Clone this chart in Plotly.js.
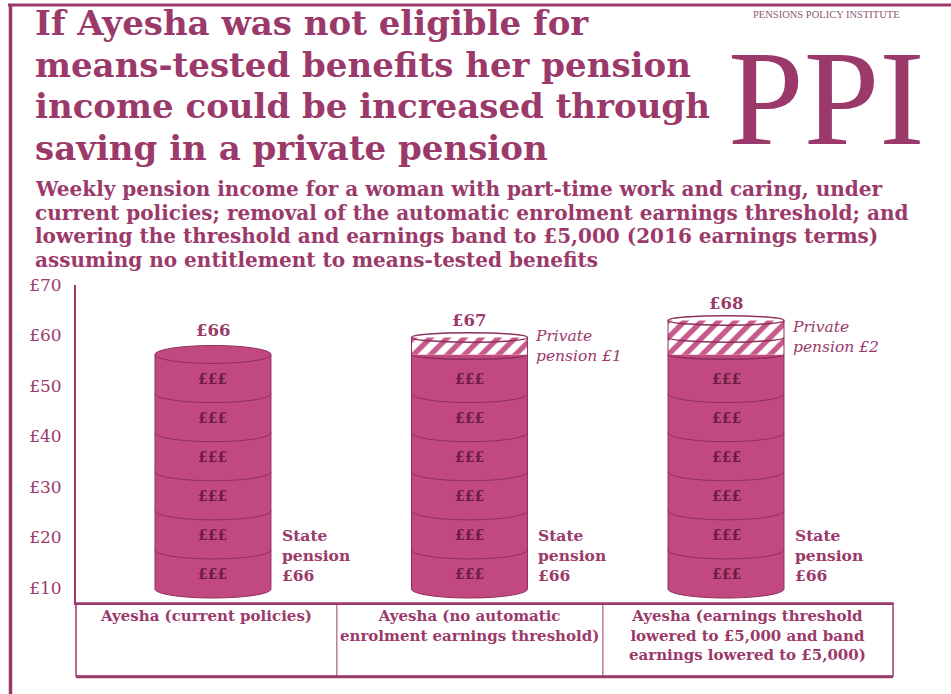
<!DOCTYPE html>
<html><head><meta charset="utf-8">
<script src="https://cdn.plot.ly/plotly-3.0.1.min.js"></script>
<style>html,body{margin:0;padding:0;background:#fff}#chart{width:951px;height:694px}</style>
</head><body><div id="chart"></div>
<script>
// ---------------- data ----------------
const categories = [
  "Ayesha (current policies)",
  "Ayesha (no automatic<br>enrolment earnings threshold)",
  "Ayesha (earnings threshold<br>lowered to £5,000 and band<br>earnings lowered to £5,000)"
];
const totalIncome = [66, 67, 68];
const statePension = [66, 66, 66];
const privatePension = [0, 1, 2];
const stateCoins = [6, 6, 6];
const privateCoins = [0, 1, 2];
const yTickValues = [10, 20, 30, 40, 50, 60, 70];
const yTickLabels = ["£10", "£20", "£30", "£40", "£50", "£60", "£70"];
const titleLines = [
  "If Ayesha was not eligible for",
  "means-tested benefits her pension",
  "income could be increased through",
  "saving in a private pension"
];
const subtitleLines = [
  "Weekly pension income for a woman with part-time work and caring, under",
  "current policies; removal of the automatic enrolment earnings threshold; and",
  "lowering the threshold and earnings band to £5,000 (2016 earnings terms)",
  "assuming no entitlement to means-tested benefits"
];
const logoSmall = "PENSIONS POLICY INSTITUTE";
const logoBig = "PPI";

// ---------------- style / geometry ----------------
const W = 951, H = 694;
const M = {l: 76, r: 58, t: 285, b: 91};
const PW = W - M.l - M.r, PH = H - M.t - M.b;
const XR = [-0.534, 2.651], YR = [7.03, 70];
const pxPerY = PH / (YR[1] - YR[0]);
const px2x = px => (px - M.l) / PW;
const py2y = py => (H - M.b - py) / PH;
const d2px = x => (x - XR[0]) / (XR[1] - XR[0]);
const colEdges = [-0.534, 0.483, 1.52, 2.651];

const MAROON = '#9b3a6a', COIN = '#c2497f', COINLINE = '#8f2e5c', COINTEXT = '#6d1d45';
const SERIF = 'DejaVu Serif, serif';

const stackBase = 9.8, coinH = 7.74, privH = 3.37, halfW = 0.226;
const ryS = 1.78, ryP = 0.95, K = 0.5523;

const xs = categories.map((_, i) => i);
const stateTop = stateCoins.map(n => stackBase + n * coinH);
const overallTop = stateTop.map((t, i) => t + privateCoins[i] * privH);

// ---------------- traces ----------------
const traces = [
  {
    type: 'bar', x: xs, y: stateCoins.map(n => n * coinH), base: stackBase,
    width: 2 * halfW, marker: {color: COIN, line: {width: 0}},
    hoverinfo: 'skip', showlegend: false, name: 'State pension'
  },
  {
    type: 'bar', x: xs, y: privateCoins.map(n => n * privH), base: stateTop,
    width: 2 * halfW,
    marker: {color: 'white', line: {width: 0},
      pattern: {shape: '/', fgcolor: '#c65a8c', bgcolor: 'white', size: 12, solidity: 0.45}},
    hoverinfo: 'skip', showlegend: false, name: 'Private pension'
  }
];

// ---------------- shapes ----------------
const shapes = [];
function lowerArc(cx, y, rx, ry) {
  return `M ${cx - rx},${y} C ${cx - rx},${y - K * ry} ${cx - K * rx},${y - ry} ${cx},${y - ry} ` +
         `C ${cx + K * rx},${y - ry} ${cx + rx},${y - K * ry} ${cx + rx},${y}`;
}
xs.forEach((cx, i) => {
  shapes.push({type: 'path', xref: 'x', yref: 'y', path: lowerArc(cx, stackBase, halfW, ryS) + ' Z',
    fillcolor: COIN, line: {width: 0}});
  shapes.push({type: 'path', xref: 'x', yref: 'y', path: lowerArc(cx, stackBase, halfW, ryS),
    fillcolor: 'rgba(0,0,0,0)', line: {color: COINLINE, width: 1}});
  [-1, 1].forEach(s => shapes.push({type: 'line', xref: 'x', yref: 'y',
    x0: cx + s * halfW, x1: cx + s * halfW, y0: stackBase, y1: overallTop[i],
    line: {color: COINLINE, width: 1}}));
  for (let k = 1; k < stateCoins[i]; k++) {
    shapes.push({type: 'path', xref: 'x', yref: 'y', path: lowerArc(cx, stackBase + k * coinH, halfW, ryS),
      fillcolor: 'rgba(0,0,0,0)', line: {color: COINLINE, width: 1}});
  }
  for (let j = 0; j < privateCoins[i]; j++) {
    shapes.push({type: 'path', xref: 'x', yref: 'y', path: lowerArc(cx, stateTop[i] + j * privH, halfW, ryP),
      fillcolor: 'rgba(0,0,0,0)', line: {color: COINLINE, width: 1.5}});
  }
  const ry = privateCoins[i] > 0 ? ryP : ryS;
  shapes.push({type: 'circle', xref: 'x', yref: 'y',
    x0: cx - halfW, x1: cx + halfW, y0: overallTop[i] - ry, y1: overallTop[i] + ry,
    fillcolor: privateCoins[i] > 0 ? 'rgba(0,0,0,0)' : COIN,
    line: {color: COINLINE, width: privateCoins[i] > 0 ? 1.5 : 1}});
});

// frame
shapes.push({type: 'line', xref: 'paper', yref: 'paper', x0: px2x(8), x1: px2x(951), y0: py2y(5), y1: py2y(5),
  line: {color: MAROON, width: 3}});
shapes.push({type: 'line', xref: 'paper', yref: 'paper', x0: px2x(10.5), x1: px2x(10.5), y0: py2y(4), y1: py2y(694),
  line: {color: MAROON, width: 3.5}});
// table
shapes.push({type: 'rect', xref: 'paper', yref: 'paper', x0: d2px(colEdges[0]), x1: d2px(colEdges[3]),
  y0: py2y(676), y1: py2y(603), line: {color: MAROON, width: 1.5}});
shapes.push({type: 'line', xref: 'paper', yref: 'paper', x0: d2px(colEdges[0]), x1: d2px(colEdges[3]),
  y0: py2y(677), y1: py2y(677), line: {color: MAROON, width: 2.5}});
[1, 2].forEach(c => shapes.push({type: 'line', xref: 'paper', yref: 'paper',
  x0: d2px(colEdges[c]), x1: d2px(colEdges[c]), y0: py2y(676), y1: py2y(603),
  line: {color: MAROON, width: 1}}));

// ---------------- annotations ----------------
const ann = [];
titleLines.forEach((t, k) => ann.push({xref: 'paper', yref: 'paper', x: px2x(33), y: py2y(23 + k * 41.5),
  xanchor: 'left', yanchor: 'middle', showarrow: false, text: t,
  font: {family: SERIF, size: 34, color: MAROON, weight: 'bold'}}));
subtitleLines.forEach((t, k) => ann.push({xref: 'paper', yref: 'paper', x: px2x(33), y: py2y(189 + k * 23.5),
  xanchor: 'left', yanchor: 'middle', showarrow: false, text: t,
  font: {family: SERIF, size: 20, color: MAROON, weight: 'bold'}}));
// logo
ann.push({xref: 'paper', yref: 'paper', x: px2x(826), y: py2y(14), xanchor: 'center', yanchor: 'middle',
  showarrow: false, text: logoSmall, font: {family: 'Liberation Serif, serif', size: 10.5, color: '#8a5a74'}});
ann.push({xref: 'paper', yref: 'paper', x: px2x(826), y: py2y(98), xanchor: 'center', yanchor: 'middle',
  showarrow: false, text: logoBig, font: {family: 'Liberation Serif, serif', size: 136, color: MAROON}});

xs.forEach((cx, i) => {
  for (let k = 0; k < stateCoins[i]; k++) {
    ann.push({x: cx, y: stackBase + (k + 0.5) * coinH, yshift: -5, showarrow: false, text: '£££',
      font: {family: SERIF, size: 14, color: COINTEXT, weight: 'bold'}});
  }
  const ryTop = privateCoins[i] > 0 ? ryP : ryS;
  ann.push({x: cx, y: overallTop[i], yanchor: 'bottom', yshift: ryTop * pxPerY + (privateCoins[i] > 0 ? 1 : 4),
    showarrow: false, text: '£' + totalIncome[i], font: {family: SERIF, size: 16.5, color: MAROON, weight: 'bold'}});
  if (privatePension[i] > 0) {
    ann.push({x: cx + halfW, xshift: 6, xanchor: 'left', y: stateTop[i] + privateCoins[i] * privH / 2,
      yanchor: 'middle', align: 'left', showarrow: false,
      text: 'Private<br>pension £' + privatePension[i],
      font: {family: SERIF, size: 15.5, color: MAROON, style: 'italic'}});
  }
  ann.push({x: cx + halfW, xshift: 9, xanchor: 'left', y: stackBase + coinH * 0.85, yanchor: 'middle',
    align: 'left', showarrow: false, text: 'State<br>pension<br>£' + statePension[i],
    font: {family: SERIF, size: 15.5, color: MAROON, weight: 'bold'}});
  ann.push({xref: 'paper', yref: 'paper', x: d2px((colEdges[i] + colEdges[i + 1]) / 2), y: py2y(605),
    xanchor: 'center', yanchor: 'top', align: 'center', showarrow: false, text: categories[i],
    font: {family: SERIF, size: 15, color: MAROON, weight: 'bold'}});
});

const layout = {
  width: W, height: H, margin: M, paper_bgcolor: 'white', plot_bgcolor: 'white',
  barmode: 'overlay', showlegend: false,
  xaxis: {range: XR, showgrid: false, zeroline: false, showticklabels: false, ticks: '',
    showline: true, linecolor: MAROON, linewidth: 2, fixedrange: true},
  yaxis: {range: YR, showgrid: false, zeroline: false, tickvals: yTickValues, ticktext: yTickLabels,
    ticks: '', ticklabelstandoff: 9, showline: true, linecolor: MAROON, linewidth: 2,
    tickfont: {family: SERIF, size: 17, color: MAROON}, fixedrange: true},
  shapes: shapes, annotations: ann
};
Plotly.newPlot('chart', traces, layout, {displayModeBar: false, staticPlot: true});
</script></body></html>
